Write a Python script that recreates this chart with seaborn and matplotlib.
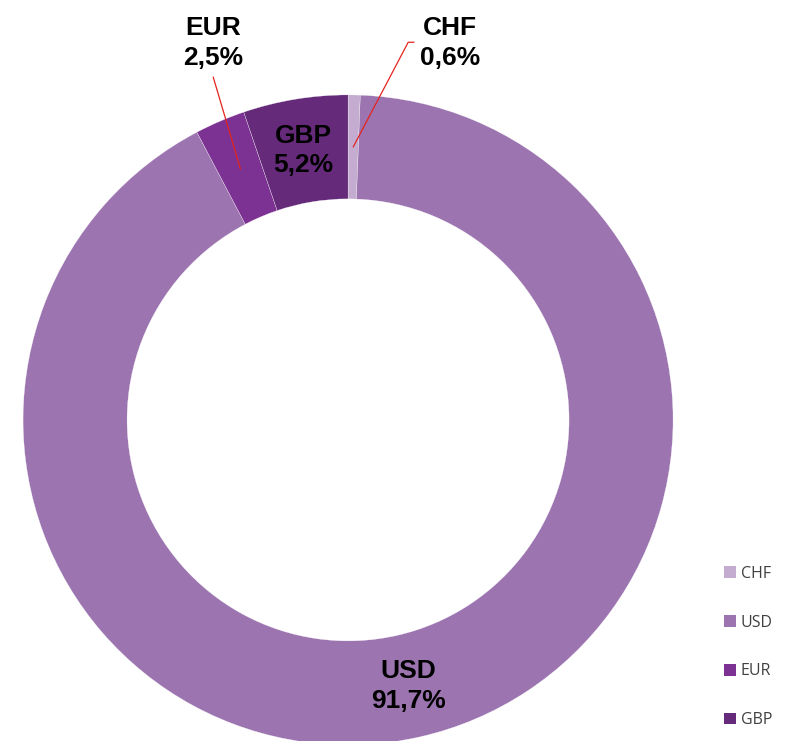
import numpy as np
import matplotlib
matplotlib.use('Agg')
import matplotlib.pyplot as plt
import seaborn as sns

# datos del gráfico
currencies = ['CHF', 'USD', 'EUR', 'GBP']
shares = [0.6, 91.7, 2.5, 5.2]
share_labels = ['0,6%', '91,7%', '2,5%', '5,2%']
colors = ['#c3accf', '#9c74b0', '#7c3292', '#652a7a']

sns.set_theme(style='white')
plt.rcParams['font.family'] = ['Liberation Sans', 'DejaVu Sans']

fig = plt.figure(figsize=(7.93, 7.41), dpi=100)
ax = fig.add_axes([0, 0, 1, 1])

wedges, _ = ax.pie(shares, colors=colors, startangle=90, counterclock=False,
                   wedgeprops=dict(width=0.32, edgecolor='white', linewidth=0.2))

ax.set_xlim(-1.071, 1.369)
ax.set_ylim(-0.988, 1.292)
ax.set_aspect('auto')
ax.axis('off')

r_lab = 0.84
label_kw = dict(ha='center', va='center', fontsize=19, fontweight='bold',
                linespacing=1.3, color='black')
for w, cur, lab in zip(wedges, currencies, share_labels):
    mid = np.deg2rad((w.theta1 + w.theta2) / 2)
    px, py = r_lab * np.cos(mid), r_lab * np.sin(mid)
    txt = f'{cur}\n{lab}'
    if cur in ('USD', 'GBP'):
        ax.text(px, py, txt, **label_kw)
    elif cur == 'EUR':
        ax.plot([px, -0.415], [py, 1.055], color='#e3241e', lw=0.9)
        ax.text(-0.415, 1.16, txt, **label_kw)
    else:
        ax.plot([px, 0.185, 0.203], [py, 1.162, 1.162], color='#e3241e', lw=0.9)
        ax.text(0.314, 1.16, txt, **label_kw)

leg = ax.legend(wedges, currencies, loc='upper left', bbox_to_anchor=(0.905, 0.245),
                frameon=False, prop={'family': 'Open Sans', 'size': 11.5},
                handlelength=0.75, handleheight=0.75, handletextpad=0.3,
                labelspacing=2.05, borderaxespad=0)
for t in leg.get_texts():
    t.set_color('#404040')
for h in leg.legend_handles:
    h.set_linewidth(0)

fig.savefig('out.png', dpi=100)
